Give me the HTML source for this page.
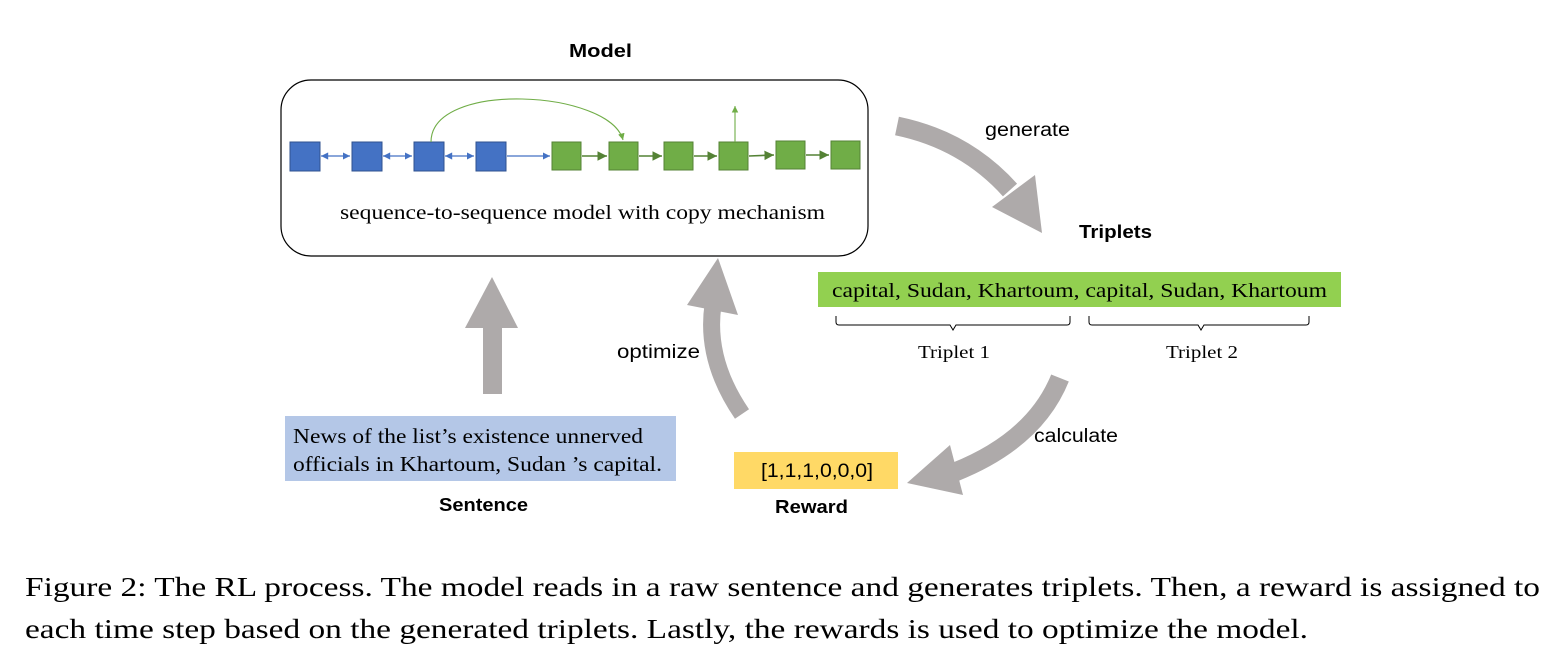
<!DOCTYPE html>
<html><head><meta charset="utf-8"><style>
body{margin:0;background:#fff;width:1566px;height:672px;overflow:hidden}
svg{display:block}
.s{font-family:"Liberation Sans",sans-serif}
.r{font-family:"Liberation Serif",serif}
</style></head><body>
<svg width="1566" height="672" viewBox="0 0 1566 672">
<defs>
<marker id="bh" markerWidth="8" markerHeight="8" refX="6" refY="3" orient="auto"><path d="M0,0 L6,3 L0,6z" fill="#4472c4"/></marker>
<marker id="bt" markerWidth="8" markerHeight="8" refX="0" refY="3" orient="auto"><path d="M6,0 L0,3 L6,6z" fill="#4472c4"/></marker>
<marker id="gh" markerWidth="8" markerHeight="8" refX="6" refY="3" orient="auto"><path d="M0,0 L6,3 L0,6z" fill="#548235"/></marker>
<marker id="lg" markerWidth="8" markerHeight="8" refX="6" refY="3" orient="auto"><path d="M0,0 L6,3 L0,6z" fill="#70ad47"/></marker>
</defs>
<text x="569" y="57" class="s" font-size="18" font-weight="bold" textLength="63" lengthAdjust="spacingAndGlyphs">Model</text>
<rect x="281" y="80" width="587" height="176" rx="30" fill="none" stroke="#000" stroke-width="1.2"/>
<g fill="#4472c4" stroke="#2f528f" stroke-width="1">
<rect x="290" y="142" width="30" height="29"/><rect x="352" y="142" width="30" height="29"/><rect x="414" y="142" width="30" height="29"/><rect x="476" y="142" width="30" height="29"/></g>
<g stroke="#4472c4" stroke-width="1.2" fill="none">
<line x1="321" y1="156" x2="350" y2="156" marker-start="url(#bt)" marker-end="url(#bh)"/>
<line x1="383" y1="156" x2="412" y2="156" marker-start="url(#bt)" marker-end="url(#bh)"/>
<line x1="445" y1="156" x2="474" y2="156" marker-start="url(#bt)" marker-end="url(#bh)"/>
<line x1="507" y1="156" x2="550" y2="156" marker-end="url(#bh)"/></g>
<g fill="#70ad47" stroke="#548235" stroke-width="1">
<rect x="552" y="142" width="29" height="28"/><rect x="609" y="142" width="29" height="28"/><rect x="664" y="142" width="29" height="28"/><rect x="719" y="142" width="29" height="28"/><rect x="776" y="141" width="29" height="28"/><rect x="831" y="141" width="29" height="28"/></g>
<g stroke="#548235" stroke-width="1.6" fill="none">
<line x1="582" y1="156" x2="607" y2="156" marker-end="url(#gh)"/>
<line x1="639" y1="156" x2="662" y2="156" marker-end="url(#gh)"/>
<line x1="694" y1="156" x2="717" y2="156" marker-end="url(#gh)"/>
<line x1="749" y1="156" x2="774" y2="155" marker-end="url(#gh)"/>
<line x1="806" y1="155" x2="829" y2="155" marker-end="url(#gh)"/></g>
<path d="M431,142 C431,80 610,90 623,140" stroke="#70ad47" stroke-width="1.1" fill="none" marker-end="url(#lg)"/>
<line x1="735" y1="142" x2="735" y2="106" stroke="#70ad47" stroke-width="1.1" marker-end="url(#lg)"/>
<text x="340" y="219" class="r" font-size="19.5" textLength="485" lengthAdjust="spacingAndGlyphs">sequence-to-sequence model with copy mechanism</text>
<g fill="#aeaaaa">
<path d="M897,126 Q965,140 1010,190" stroke="#aeaaaa" stroke-width="19" fill="none"/>
<polygon points="992,207 1035,175 1042,233"/>
<path d="M1060,378 Q1035,440 955,472" stroke="#aeaaaa" stroke-width="19" fill="none"/>
<polygon points="907,483 950,445 963,495"/>
<path d="M742,414 Q705,360 713,305" stroke="#aeaaaa" stroke-width="17" fill="none"/>
<polygon points="687,305 738,315 718,258"/>
<rect x="483" y="326" width="19" height="68"/>
<polygon points="465,328 518,328 492,277"/>
</g>
<text x="985" y="136" class="s" font-size="19" textLength="85" lengthAdjust="spacingAndGlyphs">generate</text>
<text x="1079" y="238" class="s" font-size="18" font-weight="bold" textLength="73" lengthAdjust="spacingAndGlyphs">Triplets</text>
<rect x="818" y="272" width="523" height="35" fill="#92d050"/>
<text x="832" y="297" class="r" font-size="20" textLength="495" lengthAdjust="spacingAndGlyphs">capital, Sudan, Khartoum, capital, Sudan, Khartoum</text>
<g stroke="#000" stroke-width="1" fill="none">
<path d="M836,316 v6 q0,3 3,3 h111 l3,5 l3,-5 h111 q3,0 3,-3 v-6"/>
<path d="M1089,316 v6 q0,3 3,3 h106 l3,5 l3,-5 h102 q3,0 3,-3 v-6"/></g>
<text x="918" y="358" class="r" font-size="18" textLength="72" lengthAdjust="spacingAndGlyphs">Triplet 1</text>
<text x="1166" y="358" class="r" font-size="18" textLength="72" lengthAdjust="spacingAndGlyphs">Triplet 2</text>
<text x="1034" y="442" class="s" font-size="19" textLength="84" lengthAdjust="spacingAndGlyphs">calculate</text>
<rect x="734" y="452" width="164" height="37" fill="#ffd966"/>
<text x="761" y="477" class="s" font-size="19" textLength="112" lengthAdjust="spacingAndGlyphs">[1,1,1,0,0,0]</text>
<text x="775" y="513" class="s" font-size="18" font-weight="bold" textLength="73" lengthAdjust="spacingAndGlyphs">Reward</text>
<text x="617" y="358" class="s" font-size="19" textLength="83" lengthAdjust="spacingAndGlyphs">optimize</text>
<rect x="285" y="416" width="391" height="65" fill="#b4c7e7"/>
<text x="293" y="443" class="r" font-size="21" textLength="350" lengthAdjust="spacingAndGlyphs">News of the list’s existence unnerved</text>
<text x="293" y="471" class="r" font-size="21" textLength="369" lengthAdjust="spacingAndGlyphs">officials in Khartoum, Sudan ’s capital.</text>
<text x="439" y="511" class="s" font-size="18" font-weight="bold" textLength="89" lengthAdjust="spacingAndGlyphs">Sentence</text>
<text x="25" y="596" class="r" font-size="27" textLength="1515" lengthAdjust="spacingAndGlyphs">Figure 2: The RL process. The model reads in a raw sentence and generates triplets. Then, a reward is assigned to</text>
<text x="25" y="638" class="r" font-size="27" textLength="1283" lengthAdjust="spacingAndGlyphs">each time step based on the generated triplets. Lastly, the rewards is used to optimize the model.</text>
</svg>
</body></html>
